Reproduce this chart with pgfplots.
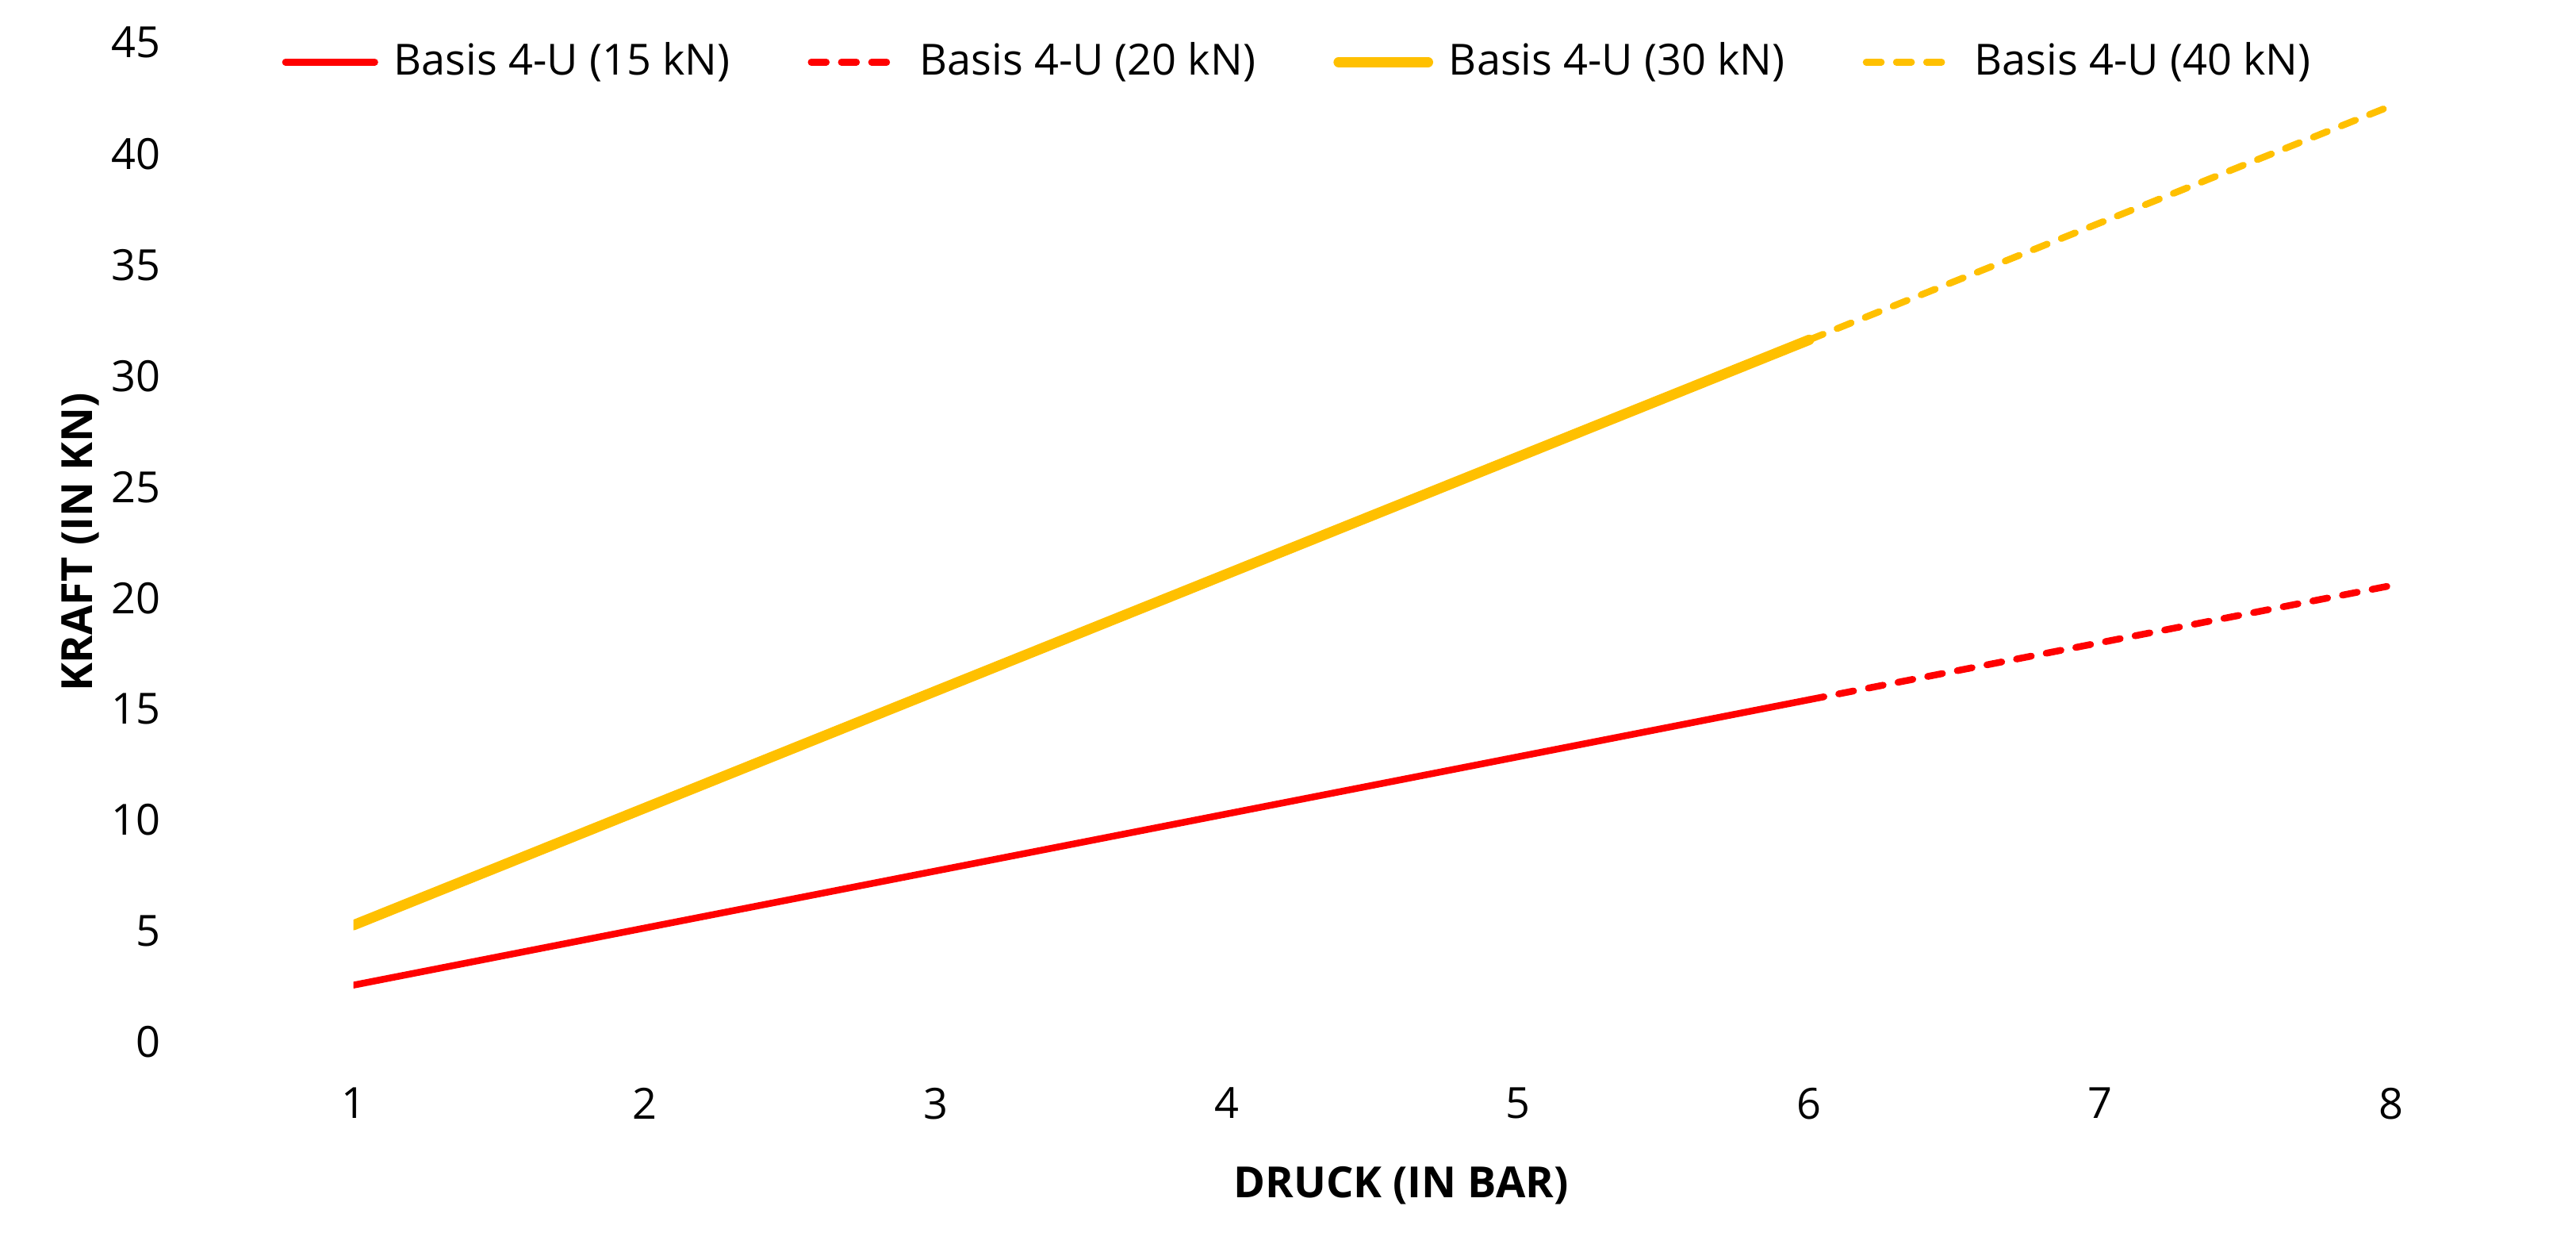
\documentclass[border=0pt]{standalone}
\usepackage{fontspec}
\setmainfont{Open Sans}
\usepackage{pgfplots}
\pgfplotsset{compat=1.18}
\definecolor{kred}{HTML}{FF0000}
\definecolor{kgold}{HTML}{FFC000}
\begin{document}
\fontsize{10.8}{13}\selectfont
\begin{tikzpicture}
\path[use as bounding box] (-3.127cm,-1.853cm) rectangle (19.663cm,9.217cm);
\begin{axis}[
    at={(0,0)}, anchor=south west,
    width=18.03cm, height=8.84cm, scale only axis,
    xmin=1, xmax=8, ymin=0, ymax=45,
    xtick={1,2,...,8}, ytick={0,5,...,45},
    axis line style={draw=none}, tick style={draw=none},
    /pgf/number format/assume math mode=true,
    yticklabel style={xshift=-1.57cm},
    xticklabel style={yshift=-0.27cm},
    xlabel={\bfseries DRUCK (IN BAR)},
    ylabel={\bfseries KRAFT (IN KN)},
    xlabel style={at={(axis description cs:0.514,-0.1437)}, anchor=center},
    ylabel style={at={(axis description cs:-0.134,0.5)}, anchor=center},
    legend columns=4,
    legend style={draw=none, fill=none, inner sep=0pt, outer sep=0pt,
        at={(axis description cs:-0.035,0.9805)}, anchor=west,
        /tikz/every odd column/.append style={column sep=0.07cm},
        /tikz/every even column/.append style={column sep=0.62cm}},
    legend image code/.code={\draw[#1] (0cm,0cm) -- (0.79cm,0cm);},
    every axis plot/.append style={line cap=round, line join=round},
]
\addplot[kred, line width=1.7pt] coordinates {
    (1,2.57) (2,5.14) (3,7.71) (4,10.28) (5,12.85) (6,15.42)};
\addlegendentry{Basis 4-U (15 kN)}
\addplot[kred, line width=1.7pt, dash pattern=on 3.8pt off 3.8pt] coordinates {
    (6,15.42) (7,17.99) (8,20.56)};
\addlegendentry{Basis 4-U (20 kN)}
\addplot[kgold, line width=2.6pt] coordinates {
    (1,5.27) (2,10.54) (3,15.81) (4,21.08) (5,26.35) (6,31.62)};
\addlegendentry{Basis 4-U (30 kN)}
\addplot[kgold, line width=1.7pt, dash pattern=on 3.8pt off 3.8pt] coordinates {
    (6,31.62) (7,36.89) (8,42.16)};
\addlegendentry{Basis 4-U (40 kN)}
\end{axis}
\end{tikzpicture}
\end{document}
